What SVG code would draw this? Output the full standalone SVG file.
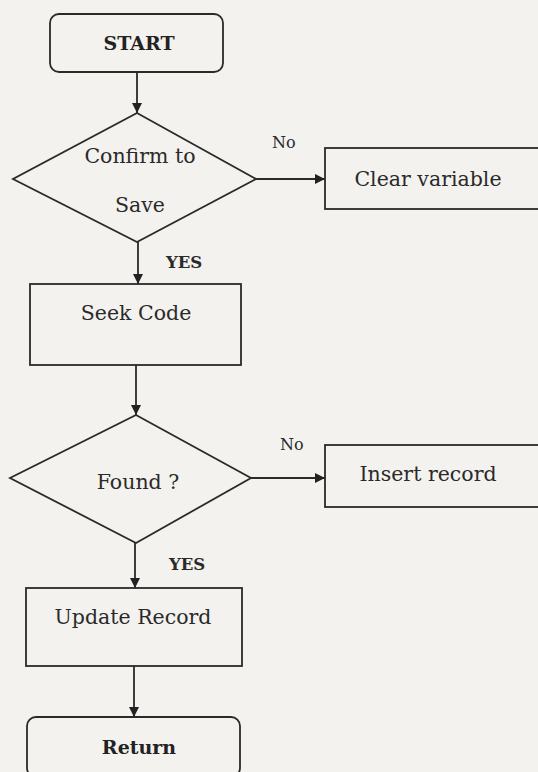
<svg xmlns="http://www.w3.org/2000/svg" width="538" height="772" viewBox="0 0 538 772">
<defs>
<marker id="ah" viewBox="0 0 10 10" refX="10" refY="5" markerWidth="10" markerHeight="10" markerUnits="userSpaceOnUse" orient="auto">
<path d="M0,0 L10,5 L0,10 z" fill="#222"/>
</marker>
<style>
.shape{fill:none;stroke:#2a2a2a;stroke-width:1.8}
.conn{fill:none;stroke:#2a2a2a;stroke-width:1.8;marker-end:url(#ah)}
.t{font-family:"DejaVu Serif","Liberation Serif",serif;font-size:20.5px;fill:#2a2a2a;text-anchor:middle}
.term{font-family:"DejaVu Serif","Liberation Serif",serif;font-weight:bold;font-size:19px;fill:#222;text-anchor:middle}
.lbl{font-family:"DejaVu Serif","Liberation Serif",serif;font-size:16px;fill:#2a2a2a}
.yes{font-family:"DejaVu Serif","Liberation Serif",serif;font-size:16.5px;font-weight:bold;fill:#2a2a2a}
</style>
</defs>
<rect width="538" height="772" fill="#f4f2ef"/>
<g id="start">
<rect class="shape" x="50" y="14" width="173" height="58" rx="9"/>
<text class="term" x="139" y="50">START</text>
</g>
<g id="confirm">
<polygon class="shape" points="137,113 256,179 137,242 13,179"/>
<text class="t" x="140" y="163">Confirm to</text>
<text class="t" x="140" y="212">Save</text>
</g>
<g id="clear">
<rect class="shape" x="325" y="148" width="225" height="61"/>
<text class="t" x="428" y="186">Clear variable</text>
</g>
<g id="seek">
<rect class="shape" x="30" y="284" width="211" height="81"/>
<text class="t" x="136" y="320">Seek Code</text>
</g>
<g id="found">
<polygon class="shape" points="136,415 251,478 136,543 10,478"/>
<text class="t" x="138" y="489">Found ?</text>
</g>
<g id="insert">
<rect class="shape" x="325" y="445" width="225" height="62"/>
<text class="t" x="428" y="481">Insert record</text>
</g>
<g id="update">
<rect class="shape" x="26" y="588" width="216" height="78"/>
<text class="t" x="133" y="624">Update Record</text>
</g>
<g id="return">
<rect class="shape" x="27" y="717" width="213" height="60" rx="9"/>
<text class="term" x="139" y="754">Return</text>
</g>
<g id="connectors">
<line class="conn" x1="137" y1="72" x2="137" y2="113"/>
<line class="conn" x1="256" y1="179" x2="325" y2="179"/>
<line class="conn" x1="138" y1="242" x2="138" y2="284"/>
<line class="conn" x1="136" y1="365" x2="136" y2="415"/>
<line class="conn" x1="251" y1="478" x2="325" y2="478"/>
<line class="conn" x1="135" y1="543" x2="135" y2="588"/>
<line class="conn" x1="134" y1="666" x2="134" y2="717"/>
<text class="lbl" x="272" y="148">No</text>
<text class="yes" x="166" y="268">YES</text>
<text class="lbl" x="280" y="450">No</text>
<text class="yes" x="169" y="570">YES</text>
</g>
</svg>
